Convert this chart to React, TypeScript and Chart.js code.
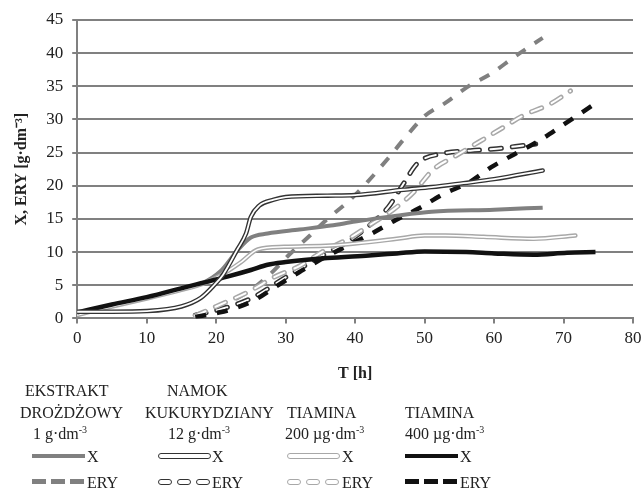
import React, { useEffect, useRef } from "react";
import { Chart, registerables } from "chart.js";
Chart.register(...registerables);

// ---- data (T [h] and values [g·dm-3]) ----
const ekstraktX_T = [0, 5, 10, 15, 17.8, 20.7, 23.1, 25, 27.4, 32, 36.5, 40, 46, 51, 60, 67];
const ekstraktX = [0.6, 1.9, 3.1, 4.4, 5.2, 7.2, 10.3, 12.2, 12.8, 13.4, 14, 14.6, 15.5, 16.1, 16.4, 16.7];

const namokX_T = [0, 5, 10, 15, 17.8, 19.7, 21, 23, 24.3, 25, 26.2, 28.3, 30, 36, 40, 47, 51, 55.6, 60, 67];
const namokX = [1.0, 1.0, 1.1, 1.8, 3.1, 5, 6.6, 10.3, 12.8, 15.3, 17, 17.9, 18.3, 18.5, 18.6, 19.4, 19.8, 20.4, 21, 22.3];

const tiamina200X_T = [0, 5, 10, 15, 18, 20.7, 23.6, 26, 29.8, 36.5, 40, 46, 50, 53, 58.5, 65.7, 71.7];
const tiamina200X = [0.5, 1.8, 3.0, 4.3, 5.2, 6.5, 8.5, 10.4, 10.8, 11, 11.3, 12, 12.5, 12.5, 12.3, 12, 12.5];

const tiamina400X_T = [0, 5, 10, 15.9, 17.8, 21.6, 25, 27.4, 30, 36, 42, 46, 50, 56, 60, 65.7, 70.5, 74.6];
const tiamina400X = [0.9, 2.1, 3.2, 4.8, 5.3, 6.3, 7.3, 8.1, 8.5, 9.1, 9.5, 9.8, 10.1, 10, 9.8, 9.6, 9.9, 10];

const ekstraktERY_T = [17, 20, 22, 25, 28, 30.5, 33.5, 36, 39.2, 41.8, 44.8, 47, 50, 53, 56.3, 59.7, 63, 67];
const ekstraktERY = [0.3, 1.6, 2.5, 4.3, 6.9, 9.6, 12.5, 15, 17.8, 20.6, 24.2, 27, 30.5, 32.5, 35, 37, 39.5, 42.3];

const namokERY_T = [17, 20, 25, 30, 35, 39, 41.8, 44.8, 46.9, 49, 52.8, 56.6, 60.4, 64.4, 66];
const namokERY = [0.5, 1.2, 3.0, 6.2, 9.3, 11.6, 13.8, 16.8, 20.2, 23.4, 24.9, 25.3, 25.6, 26.1, 26.3];

const tiamina200ERY_T = [17, 20, 25, 28.3, 32, 35.2, 39, 42, 45.5, 48.4, 51.3, 54.3, 57.8, 61, 64.4, 68, 71];
const tiamina200ERY = [0.4, 1.8, 4.2, 6.2, 7.9, 10, 12, 14, 16.4, 19, 22.5, 24.4, 26.6, 28.6, 30.7, 32.3, 34.3];

const tiamina400ERY_T = [17, 20, 22, 25.6, 28.6, 32, 35.6, 39, 42.4, 45.8, 49.2, 52.8, 56.4, 59.6, 63, 66.5, 69.7, 74];
const tiamina400ERY = [0.2, 0.8, 1.3, 2.8, 4.8, 7, 9.2, 11, 12.8, 14.8, 16.6, 18.8, 20.5, 22.8, 24.8, 26.8, 29, 32];

const X_MIN = 0, X_MAX = 80, X_STEP = 10;
const Y_MIN = 0, Y_MAX = 45, Y_STEP = 5;

const GRAY = "#808080";
const DARK = "#333333";
const LIGHT = "#a8a8a8";
const BLACK = "#111111";
const DASH = [11, 11];
const FONT = "'Liberation Serif', 'Times New Roman', serif";

const pts = (T: number[], V: number[]) => T.map((t, i) => ({ x: t, y: V[i] }));

function line(label: string, T: number[], V: number[], color: string, width: number, dash: number[], order: number, cap: CanvasLineCap = "butt") {
  return {
    label,
    data: pts(T, V),
    borderColor: color,
    backgroundColor: color,
    borderWidth: width,
    borderDash: dash,
    borderCapStyle: cap,
    pointRadius: 0,
    cubicInterpolationMode: "monotone" as const,
    fill: false,
    order,
  };
}

if (typeof document !== "undefined") document.body.style.margin = "0";

export default function App() {
  const ref = useRef<HTMLCanvasElement | null>(null);
  useEffect(() => {
    document.body.style.margin = "0";
    const datasets: any[] = [
      line("EKSTRAKT ERY", ekstraktERY_T, ekstraktERY, GRAY, 4, DASH, 20),
      line("NAMOK ERY", namokERY_T, namokERY, DARK, 5, DASH, 19, "round"),
      line("NAMOK ERY inner", namokERY_T, namokERY, "#ffffff", 2, DASH, 18, "round"),
      line("TIAMINA200 ERY", tiamina200ERY_T, tiamina200ERY, LIGHT, 5, DASH, 17, "round"),
      line("TIAMINA200 ERY inner", tiamina200ERY_T, tiamina200ERY, "#ffffff", 2, DASH, 16, "round"),
      line("TIAMINA400 ERY", tiamina400ERY_T, tiamina400ERY, BLACK, 4.5, DASH, 15),
      line("EKSTRAKT X", ekstraktX_T, ekstraktX, GRAY, 4, [], 14),
      line("TIAMINA200 X", tiamina200X_T, tiamina200X, LIGHT, 4.5, [], 13, "round"),
      line("TIAMINA200 X inner", tiamina200X_T, tiamina200X, "#ffffff", 1.6, [], 12, "round"),
      line("TIAMINA400 X", tiamina400X_T, tiamina400X, BLACK, 4.5, [], 11),
      line("NAMOK X", namokX_T, namokX, DARK, 4.5, [], 10, "round"),
      line("NAMOK X inner", namokX_T, namokX, "#ffffff", 1.8, [], 9, "round"),
    ];
    const tickFont = { family: FONT, size: 17 };
    const chart = new Chart(ref.current!, {
      type: "line",
      data: { datasets },
      options: {
        animation: false,
        responsive: false,
        layout: { padding: { top: 20, right: 10, left: 12, bottom: 0 } },
        plugins: { legend: { display: false }, tooltip: { enabled: false } },
        scales: {
          x: {
            type: "linear",
            min: X_MIN,
            max: X_MAX,
            afterFit: (s: any) => { s.paddingRight = 0; },
            ticks: { stepSize: X_STEP, font: tickFont, color: "#222", padding: 5 },
            grid: { drawOnChartArea: false, drawTicks: true, tickLength: 5, color: "#808080", lineWidth: 2 },
            border: { color: "#808080", width: 2 },
            title: { display: true, text: "T [h]", font: { family: FONT, size: 16, weight: "bold" }, color: "#222", padding: { top: 10, bottom: 0 } },
          },
          y: {
            min: Y_MIN,
            max: Y_MAX,
            ticks: { stepSize: Y_STEP, font: tickFont, color: "#222", padding: 9 },
            grid: { color: "#808080", lineWidth: 2, tickLength: 5 },
            border: { color: "#808080", width: 2 },
            title: { display: true, text: "X, ERY [g·dm⁻³]", font: { family: FONT, size: 16, weight: "bold" }, color: "#222", padding: { top: 0, bottom: 6 } },
          },
        },
      } as any,
    });
    return () => chart.destroy();
  }, []);

  const txt = (left: number, top: number, content: React.ReactNode) => (
    <div style={{ position: "absolute", left, top, fontFamily: FONT, fontSize: 16, lineHeight: "16px", color: "#222", whiteSpace: "nowrap" }}>{content}</div>
  );
  const sup = (s: string) => <sup style={{ fontSize: 10, verticalAlign: "6px", lineHeight: 0 }}>{s}</sup>;
  const solid = (left: number, color: string) => (
    <div style={{ position: "absolute", left, top: 454, width: 53, height: 4, background: color }} />
  );
  const dbl = (left: number, color: string) => (
    <div style={{ position: "absolute", left, top: 453, width: 53, height: 6, boxSizing: "border-box", border: `1.5px solid ${color}`, borderRadius: 3, background: "#fff" }} />
  );
  const dashes = (left: number, color: string, double: boolean) =>
    [0, 19, 38].map((o) => (
      <div key={o} style={{ position: "absolute", left: left + o, top: 479, width: 14, height: double ? 6 : 5, boxSizing: "border-box", background: double ? "#fff" : color, border: double ? `1.5px solid ${color}` : "none", borderRadius: double ? 3 : 0 }} />
    ));

  return (
    <div style={{ position: "relative", width: 643, height: 490, background: "#fff", overflow: "hidden" }}>
      <canvas ref={ref} width={643} height={383} style={{ position: "absolute", left: 0, top: 0 }} />
      {txt(25, 383, "EKSTRAKT")}
      {txt(20, 405, "DROŻDŻOWY")}
      {txt(33, 426, <>1 g·dm{sup("-3")}</>)}
      {txt(167, 383, "NAMOK")}
      {txt(145, 405, "KUKURYDZIANY")}
      {txt(168, 426, <>12 g·dm{sup("-3")}</>)}
      {txt(287, 405, "TIAMINA")}
      {txt(285, 426, <>200 µg·dm{sup("-3")}</>)}
      {txt(405, 405, "TIAMINA")}
      {txt(405, 426, <>400 µg·dm{sup("-3")}</>)}

      {solid(32, GRAY)}
      {txt(87, 449, "X")}
      {dbl(158, DARK)}
      {txt(212, 449, "X")}
      {dbl(287, LIGHT)}
      {txt(342, 449, "X")}
      {solid(405, BLACK)}
      {txt(460, 449, "X")}

      {dashes(32, GRAY, false)}
      {txt(87, 475, "ERY")}
      {dashes(158, DARK, true)}
      {txt(212, 475, "ERY")}
      {dashes(287, LIGHT, true)}
      {txt(342, 475, "ERY")}
      {dashes(405, BLACK, false)}
      {txt(460, 475, "ERY")}
    </div>
  );
}
